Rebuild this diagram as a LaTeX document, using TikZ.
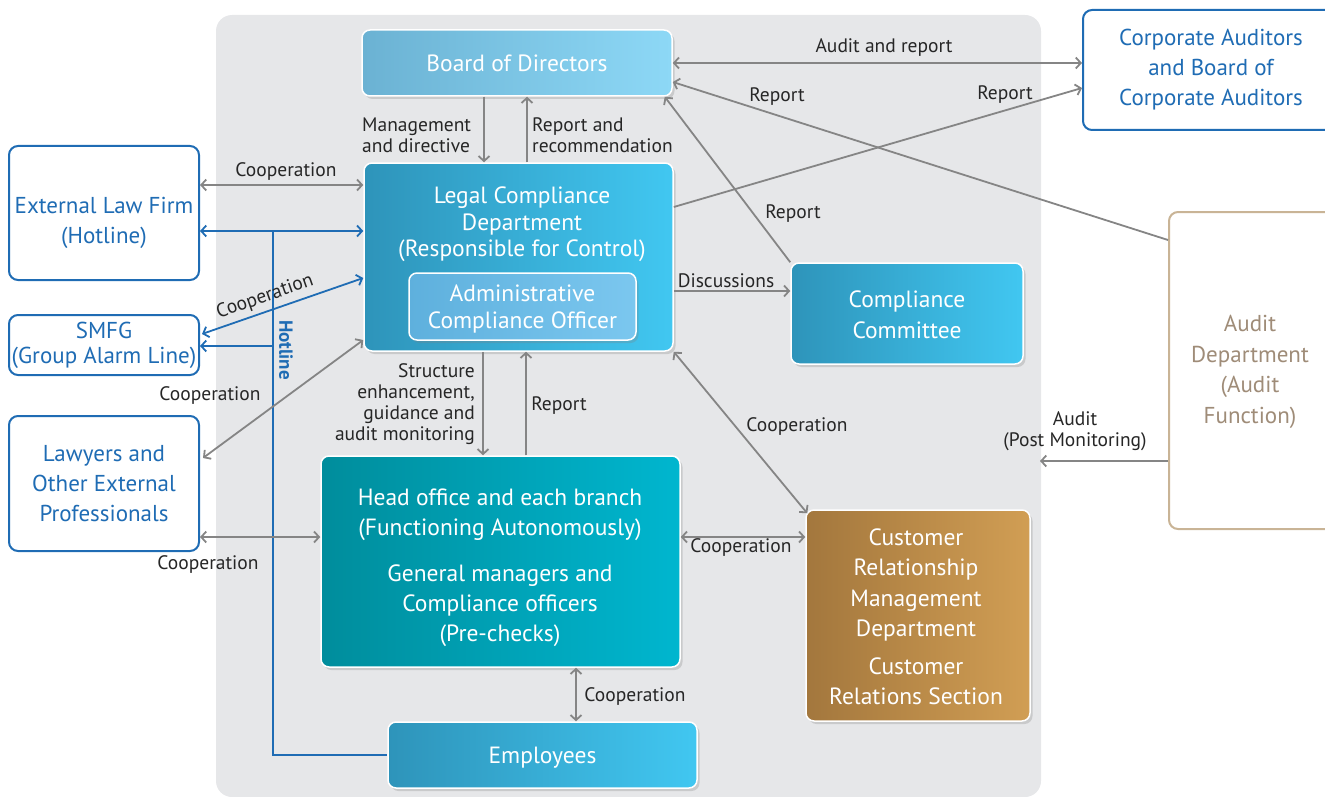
\documentclass[tikz,border=0pt]{standalone}
\usepackage{fontspec}
\setmainfont{PT Sans}
\usetikzlibrary{arrows.meta,shadows,calc}
\definecolor{bggray}{HTML}{E6E7E9}
\definecolor{argray}{HTML}{858585}
\definecolor{lblue}{HTML}{1F6CB4}
\definecolor{boardL}{HTML}{6BB2D3}
\definecolor{boardR}{HTML}{8DD8F6}
\definecolor{legL}{HTML}{2E94BA}
\definecolor{legR}{HTML}{41C7F1}
\definecolor{admL}{HTML}{5EB0DD}
\definecolor{admR}{HTML}{7BC7EF}
\definecolor{headL}{HTML}{008D9C}
\definecolor{headR}{HTML}{00B6CF}
\definecolor{crmL}{HTML}{A3773D}
\definecolor{crmR}{HTML}{D19E54}
\definecolor{tanb}{HTML}{C9B496}
\definecolor{tant}{HTML}{9F8C78}
\tikzset{
  cbox/.style={draw=white, line width=1.5pt, rounded corners=8pt, inner sep=0pt,
    drop shadow={opacity=0.28, shadow xshift=2.5pt, shadow yshift=-3pt}},
  btxt/.style={text=white, align=center, font=\fontsize{23.5}{26.5}\selectfont, inner sep=0pt},
  obox/.style={draw=lblue, line width=2pt, rounded corners=9pt, fill=white, text=lblue,
    align=center, font=\fontsize{23}{30}\selectfont, inner sep=0pt},
  otxt/.style={text=lblue, align=center, font=\fontsize{23}{30}\selectfont, inner sep=0pt},
  lbl/.style={text=black!85, font=\fontsize{19.5}{21}\selectfont, inner sep=0pt, align=center},
  arr/.style={draw=argray, line width=1.8pt, -{Straight Barb[length=5pt,width=11pt]}},
  darr/.style={draw=argray, line width=1.8pt, {Straight Barb[length=5pt,width=11pt]}-{Straight Barb[length=5pt,width=11pt]}},
  barr/.style={draw=lblue, line width=1.8pt, -{Straight Barb[length=5pt,width=11pt]}},
  bdarr/.style={draw=lblue, line width=1.8pt, {Straight Barb[length=5pt,width=11pt]}-{Straight Barb[length=5pt,width=11pt]}}
}
\begin{document}
\begin{tikzpicture}[x=1pt,y=-1pt]
\useasboundingbox (0,0) rectangle (1325,797);
\fill[bggray, rounded corners=16pt] (216,15) rectangle (1041,797);

% helper coordinates
\foreach \v in {63,82,88,185,207,231,240,291,340,346,461,537}{\coordinate (y\v) at (0,\v);}
\foreach \v in {273,483,484,526,527,576}{\coordinate (x\v) at (\v,0);}

% coloured boxes
\node[cbox, minimum width=310pt, minimum height=66pt, left color=boardL, right color=boardR] (board) at (517,63) {};
\node[btxt] (boardtxt) at (517,63.5) {Board of Directors};
\node[cbox, minimum width=309pt, minimum height=188pt, left color=legL, right color=legR] (legal) at (518.5,257) {};
\node[btxt] (legaltxt) at (522,224.5) {Legal Compliance\\Department\\(Responsible for Control)};
\node[cbox, minimum width=227pt, minimum height=67pt, left color=admL, right color=admR, drop shadow={opacity=0}] (admin) at (522.5,306.5) {};
\node[btxt] (admintxt) at (522.5,309) {Administrative\\Compliance Officer};
\node[cbox, minimum width=232pt, minimum height=101pt, left color=legL, right color=legR] (comm) at (907,313.5) {};
\node[btxt, font=\fontsize{23.5}{31}\selectfont] (commtxt) at (907,315) {Compliance\\Committee};
\node[cbox, minimum width=359pt, minimum height=211pt, left color=headL, right color=headR] (head) at (500.5,561.5) {};
\node[btxt, font=\fontsize{23.5}{30}\selectfont] (headtxt) at (500,568) {Head office and each branch\\(Functioning Autonomously)\\[16pt]General managers and\\Compliance officers\\(Pre-checks)};
\node[cbox, minimum width=224pt, minimum height=211pt, left color=crmL, right color=crmR] (crm) at (918,615.5) {};
\node[btxt, font=\fontsize{23.5}{30.3}\selectfont] (crmtxt) at (916,617) {Customer\\Relationship\\Management\\Department\\[8pt]Customer\\Relations Section};
\node[cbox, minimum width=309pt, minimum height=66pt, left color=legL, right color=legR] (emp) at (542.5,755) {};
\node[btxt] (emptxt) at (542.5,758) {Employees};

% outlined boxes
\node[obox, minimum width=190pt, minimum height=134pt] (elf) at (104,213) {};
\node[otxt] (elftxt) at (104,222.5) {External Law Firm\\(Hotline)};
\node[obox, minimum width=190pt, minimum height=60pt, font=\fontsize{23}{25}\selectfont] (smfg) at (104,345) {SMFG\\(Group Alarm Line)};
\node[obox, minimum width=190pt, minimum height=135pt] (lawyers) at (104,483.5) {Lawyers and\\Other External\\Professionals};
\node[obox, minimum width=256pt, minimum height=120pt] (corp) at (1211,70) {Corporate Auditors\\and Board of\\Corporate Auditors};
\node[obox, draw=tanb, text=tant, minimum width=166pt, minimum height=317pt, font=\fontsize{23}{30.5}\selectfont] (audit) at (1252,370.5) {};
\node[otxt, text=tant, font=\fontsize{23}{30.5}\selectfont] (audittxt) at (1250,372) {Audit\\Department\\(Audit\\Function)};
\coordinate (auditend) at (1040,461);

% connectors
\draw[darr] (board.east |- y63) -- (corp.west |- y63);
\draw[arr] (audit.west |- y240) -- (board.east |- y82);
\draw[arr] (legal.east |- y207) -- (corp.west |- y88);
\draw[arr] (comm.north west) -- ($(board.south east)+(-8,0)$);
\draw[arr] (board.south -| x484) -- (legal.north -| x484);
\draw[arr] (legal.north -| x527) -- (board.south -| x527);
\draw[darr] (elf.east |- y185) -- (legal.west |- y185);
\draw[bdarr] (elf.east |- y231) -- (legal.west |- y231);
\draw[draw=lblue, line width=1.8pt] (x273 |- y231) -- (x273 |- emp.west) -- (emp.west);
\draw[barr] (x273 |- y346) -- (smfg.east |- y346);
\draw[bdarr] ($(smfg.north east)+(2,20)$) -- ($(legal.west)+(0,21)$);
\draw[darr] ($(lawyers.north east)+(3,43)$) -- (legal.west |- y340);
\draw[darr] (lawyers.east |- y537) -- (head.west |- y537);
\draw[arr] (legal.south -| x483) -- (head.north -| x483);
\draw[arr] (head.north -| x526) -- (legal.south -| x526);
\draw[arr] (legal.east |- y291) -- (comm.west |- y291);
\draw[darr] (legal.south east) -- ($(crm.north west)+(2,4)$);
\draw[darr] (head.east |- y537) -- (crm.west |- y537);
\draw[darr] (head.south -| x576) -- (emp.north -| x576);
\draw[arr] (audit.west |- y461) -- (auditend);

% labels
\node[lbl] (l1) at (884,48) {Audit and report};
\node[lbl] (l2) at (777,97) {Report};
\node[lbl] (l3) at (1005,95) {Report};
\node[lbl] (l4) at (793,214) {Report};
\node[lbl, anchor=west, align=left] (l5) at (362,135.5) {Management\\and directive};
\node[lbl, anchor=west, align=left] (l6) at (532,135.5) {Report and\\recommendation};
\node[lbl] (l7) at (286,172) {Cooperation};
\node[lbl, rotate=19.3] (l8) at (265,297) {Cooperation};
\node[lbl, text=lblue, font=\fontsize{19}{20}\selectfont\bfseries, rotate=-90] (l9) at (286,350) {Hotline};
\node[lbl] (l10) at (210,396) {Cooperation};
\node[lbl] (l11) at (208,565) {Cooperation};
\node[lbl, anchor=east, align=right] (l12) at (475,404) {Structure\\enhancement,\\guidance and\\audit monitoring};
\node[lbl] (l13) at (559,406) {Report};
\node[lbl] (l14) at (726,281) {Discussions};
\node[lbl] (l15) at (797,427) {Cooperation};
\node[lbl] (l16) at (741,548) {Cooperation};
\node[lbl] (l17) at (635,697) {Cooperation};
\node[lbl] (l18) at (1075,431) {Audit\\(Post Monitoring)};
\end{tikzpicture}
\end{document}
